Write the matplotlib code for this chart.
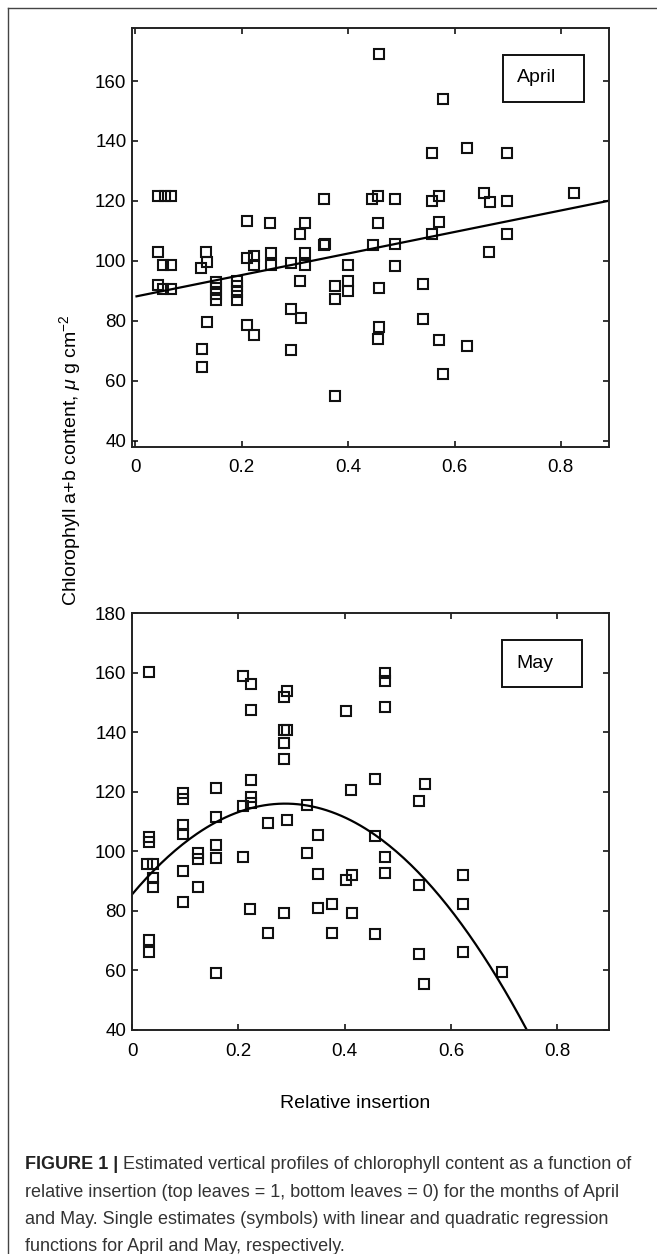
import matplotlib
matplotlib.use('Agg')
import matplotlib.pyplot as plt
import numpy as np
from matplotlib import font_manager
from matplotlib.patches import Rectangle
from matplotlib.lines import Line2D

W, H, DPI = 657, 1254, 100

# ---------------- data ----------------
april_x = [0.043, 0.055, 0.066,
           0.043, 0.052, 0.066, 0.043, 0.052, 0.066,
           0.132, 0.134, 0.124, 0.134, 0.126, 0.126,
           0.152, 0.152, 0.152, 0.152,
           0.191, 0.191, 0.191, 0.191,
           0.209, 0.209, 0.223, 0.223, 0.209, 0.223,
           0.253, 0.254, 0.254,
           0.292, 0.292, 0.292,
           0.310, 0.319, 0.319, 0.319, 0.310, 0.312,
           0.354, 0.354, 0.356,
           0.375, 0.375, 0.375,
           0.400, 0.400, 0.400,
           0.444, 0.457, 0.489, 0.446, 0.457, 0.458, 0.458, 0.458, 0.457, 0.488, 0.488,
           0.557, 0.557, 0.571, 0.571, 0.557, 0.541, 0.541, 0.571, 0.578, 0.578,
           0.624, 0.624,
           0.656, 0.667, 0.665, 0.698, 0.698, 0.698,
           0.825]
april_y = [121.7, 121.7, 121.7,
           102.8, 98.6, 98.6, 91.9, 90.6, 90.6,
           102.8, 99.5, 97.5, 79.7, 70.6, 64.5,
           92.8, 90.8, 88.9, 87.0,
           93.3, 91.5, 89.5, 87.0,
           113.3, 101.1, 101.5, 98.6, 78.7, 75.2,
           112.8, 102.6, 98.6,
           99.2, 83.9, 70.3,
           108.9, 112.6, 102.6, 98.6, 93.3, 80.8,
           120.6, 105.2, 105.6,
           91.5, 87.2, 55.0,
           98.6, 93.3, 90.0,
           120.6, 121.5, 120.6, 105.2, 112.8, 169.0, 91.1, 78.1, 73.9, 105.7, 98.3,
           136.1, 120.0, 121.5, 113.0, 108.9, 92.2, 80.6, 73.7, 62.2, 153.9,
           137.6, 71.7,
           122.8, 119.7, 102.8, 136.1, 120.0, 108.9,
           122.8]

may_x = [0.032, 0.032, 0.032, 0.028, 0.040, 0.040, 0.040, 0.032, 0.032,
         0.095, 0.095, 0.095, 0.095, 0.095, 0.095,
         0.125, 0.125, 0.125,
         0.158, 0.158, 0.158, 0.158, 0.158,
         0.208, 0.223, 0.223, 0.223, 0.223, 0.223, 0.208, 0.208, 0.222,
         0.256, 0.256,
         0.285, 0.292, 0.285, 0.292, 0.285, 0.285, 0.291, 0.285,
         0.330, 0.330, 0.349, 0.349, 0.349,
         0.376, 0.376,
         0.402, 0.411, 0.402, 0.413, 0.413,
         0.457, 0.457, 0.457,
         0.476, 0.476, 0.476, 0.476, 0.476,
         0.540, 0.551, 0.539, 0.540, 0.550,
         0.623, 0.623, 0.622,
         0.695]
may_y = [160.3, 104.7, 103.0, 95.7, 95.7, 91.0, 88.0, 70.2, 66.3,
         119.7, 117.4, 108.8, 105.8, 93.4, 83.1,
         99.4, 97.4, 88.1,
         121.1, 111.6, 102.1, 97.6, 59.0,
         158.9, 156.1, 147.6, 123.9, 118.3, 116.1, 115.2, 98.2, 80.5,
         109.6, 72.5,
         151.9, 153.9, 140.7, 140.7, 136.2, 130.9, 110.5, 79.4,
         115.5, 99.4, 105.5, 92.4, 80.8,
         82.3, 72.7,
         147.2, 120.6, 90.4, 92.0, 79.4,
         124.2, 105.1, 72.2,
         159.8, 157.2, 148.3, 98.2, 92.8,
         116.9, 122.6, 88.7, 65.5, 55.4,
         92.0, 82.3, 66.3,
         59.4]

april_fit = [35.9, 88.1]             # linear regression: slope, intercept
may_fit = [-367.7, 211.8, 85.5]      # quadratic regression coefficients

xticks = [0, 0.2, 0.4, 0.6, 0.8]
xticklabels = ['0', '0.2', '0.4', '0.6', '0.8']
april_yticks = [40, 60, 80, 100, 120, 140, 160]
may_yticks = [40, 60, 80, 100, 120, 140, 160, 180]

ylabel = 'Chlorophyll a+b content, $\\mu$ g cm$^{-2}$'
xlabel = 'Relative insertion'
caption_bold = 'FIGURE 1 | '
caption_lines = [
    'Estimated vertical profiles of chlorophyll content as a function of',
    'relative insertion (top leaves = 1, bottom leaves = 0) for the months of April',
    'and May. Single estimates (symbols) with linear and quadratic regression',
    'functions for April and May, respectively.',
]

# ---------------- fonts ----------------
names = {f.name for f in font_manager.fontManager.ttflist}
base = 'Liberation Sans' if 'Liberation Sans' in names else 'DejaVu Sans'
narrow = 'Liberation Sans Narrow' if 'Liberation Sans Narrow' in names else base
plt.rcParams['font.family'] = [base, 'DejaVu Sans']
plt.rcParams['mathtext.fontset'] = 'custom'
plt.rcParams['mathtext.it'] = base + ':italic'
plt.rcParams['mathtext.rm'] = base

fig = plt.figure(figsize=(W / DPI, H / DPI), dpi=DPI)


def px_axes(l, t, r, b):
    return fig.add_axes([l / W, 1 - b / H, (r - l) / W, (b - t) / H])


def style(ax, ylim, xlim, yticks, xpad):
    ax.set_xlim(*xlim)
    ax.set_ylim(*ylim)
    ax.set_xticks(xticks)
    ax.set_xticklabels(xticklabels)
    ax.set_yticks(yticks)
    ax.tick_params(direction='in', top=True, right=True, length=4, width=1.1,
                   labelsize=13.5, colors='black')
    ax.tick_params(axis='x', pad=xpad)
    ax.tick_params(axis='y', pad=4)
    for s in ax.spines.values():
        s.set_linewidth(1.4)
        s.set_color('#222222')


mk = dict(ls='none', marker='s', ms=7.8, mew=1.5, mfc='none', mec='#111111')

ax1 = px_axes(132, 28, 609, 447)
ax1.plot(april_x, april_y, **mk)
xl = np.linspace(0.002, 0.9, 50)
ax1.plot(xl, np.polyval(april_fit, xl), color='black', lw=1.6)
style(ax1, (37.9, 177.7), (-0.0065, 0.8905), april_yticks, 8.5)
ax1.add_patch(Rectangle((0.777, 0.823), 0.171, 0.112, transform=ax1.transAxes,
                        fill=False, lw=1.4, ec='#111111'))
ax1.text(0.806, 0.881, 'April', transform=ax1.transAxes, ha='left', va='center',
         fontsize=14)

ax2 = px_axes(132, 613, 609.3, 1030)
ax2.plot(may_x, may_y, **mk)
xq = np.linspace(0, 0.9, 200)
ax2.plot(xq, np.polyval(may_fit, xq), color='black', lw=1.6)
style(ax2, (40, 180), (0, 0.8977), may_yticks, 9.5)
ax2.add_patch(Rectangle((0.776, 0.823), 0.166, 0.112, transform=ax2.transAxes,
                        fill=False, lw=1.4, ec='#111111'))
ax2.text(0.805, 0.880, 'May', transform=ax2.transAxes, ha='left', va='center',
         fontsize=14)

# shared labels
fig.text(70 / W, 1 - 460 / H, ylabel, rotation=90, ha='center', va='center',
         fontsize=14)
fig.text(355 / W, 1 - 1103 / H, xlabel, ha='center', va='center', fontsize=14)

# outer frame (left and top edges visible)
fig.add_artist(Line2D([8 / W, 8 / W], [0, 1 - 8 / H], transform=fig.transFigure,
                      color='#444444', lw=1.0))
fig.add_artist(Line2D([8 / W, 1], [1 - 8 / H, 1 - 8 / H], transform=fig.transFigure,
                      color='#444444', lw=1.0))

# caption, fitted to the measured width of line 2
fig.canvas.draw()
renderer = fig.canvas.get_renderer()
probe = fig.text(0, 0, caption_lines[1], fontsize=13, family=[narrow, 'DejaVu Sans'])
wprobe = probe.get_window_extent(renderer).width
probe.remove()
cfs = 13 * 592 / wprobe
x0 = 25
baselines = [1169, 1197, 1224, 1251]
tb = fig.text(x0 / W, 1 - baselines[0] / H, caption_bold, fontsize=cfs,
              fontweight='bold', family=[narrow, 'DejaVu Sans'], va='baseline',
              color='#222222')
fig.canvas.draw()
wb = tb.get_window_extent(renderer).width
for i, line in enumerate(caption_lines):
    xs = x0 + (wb if i == 0 else 0)
    fig.text(xs / W, 1 - baselines[i] / H, line, fontsize=cfs,
             family=[narrow, 'DejaVu Sans'], va='baseline', color='#333333')

fig.savefig('out.png', dpi=DPI)
